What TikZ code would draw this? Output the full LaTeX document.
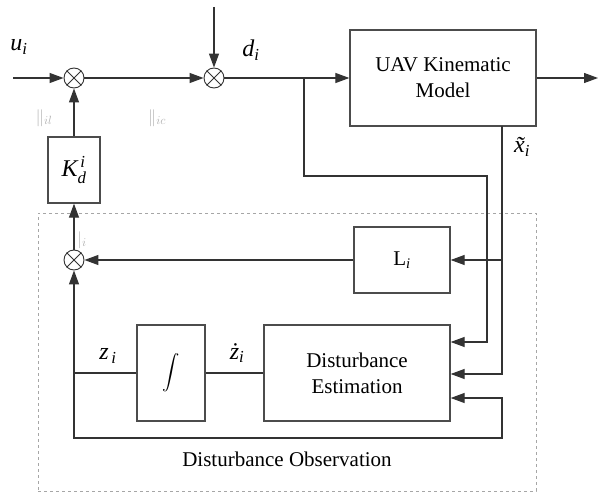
\documentclass[tikz,border=0pt]{standalone}
\usepackage{fix-cm}
\usepackage{amsmath}
\usepackage{fontspec}
\setmainfont{Liberation Serif}
\usetikzlibrary{arrows.meta}
\newcommand{\ita}[1]{\textit{#1}}
\begin{document}
\begin{tikzpicture}[x=1pt,y=-1pt,
  wire/.style={draw=black!80,line width=1.2pt},
  arr/.style={wire,-{Triangle[length=14pt,width=10pt]}},
  blockbox/.style={draw=black!70,line width=1.3pt,inner sep=0pt},
  sumnode/.style={draw=black!80,line width=0.9pt,circle,minimum size=20pt,inner sep=0pt},
  lbl/.style={font=\fontsize{21}{24}\selectfont,inner sep=0pt},
  mlbl/.style={font=\fontsize{24}{26}\selectfont,inner sep=0pt},
  faint/.style={font=\fontsize{17}{18}\selectfont,text=black!30,inner sep=0pt}]
\useasboundingbox (0,0) rectangle (599,492);
% dashed observer region
\node[draw=black!35,dashed,line width=0.8pt,inner sep=0pt,minimum width=498pt,minimum height=278pt] (obs) at (287,352) {};
% summing junctions
\node[sumnode] (s1) at (74,78) {};
\node[sumnode] (s2) at (214,78) {};
\node[sumnode] (s3) at (74,260) {};
\foreach \s in {s1,s2,s3}{
  \draw[black!80,line width=0.9pt] (\s.north west) -- (\s.south east) (\s.north east) -- (\s.south west);}
% blocks
\node[blockbox,minimum width=186pt,minimum height=96pt,align=center,lbl] (uav) at (443,78) {UAV Kinematic\\[2pt]Model};
\node[blockbox,minimum width=52pt,minimum height=66pt,mlbl] (kd) at (74,170) {$\ita{K}_{\ita{d}}^{\,\ita{i}}$};
\node[blockbox,minimum width=96pt,minimum height=66pt,lbl] (L) at (402,260) {L$_{\ita{i}}$};
\node[blockbox,minimum width=68pt,minimum height=96pt,font=\fontsize{19}{20}\selectfont] (int) at (171,373) {$\displaystyle\int$};
\node[blockbox,minimum width=186pt,minimum height=96pt,align=center,lbl] (de) at (357,373) {Disturbance\\[2pt]Estimation};
% coordinates
\coordinate (in) at (13,78);
\coordinate (dtop) at (214,7);
\coordinate (out) at (598,78);
\coordinate (br) at (304,78);
\coordinate (xb) at (502,126);
\coordinate (zl) at (74,373);
% main path
\draw[arr] (in) -- (s1);
\draw[arr] (s1) -- (s2);
\draw[arr] (dtop) -- (s2);
\draw[arr] (s2) -- (uav.west);
\draw[arr] (uav.east) -- (out);
\draw[arr] (br) -- (304,176) -- (487,176) -- (487,342) -- (de.east |- 0,342);
\draw[arr] (xb) -- (502,374) -- (de.east |- 0,374);
\draw[arr] (502,260) -- (L.east);
\draw[arr] (L.west) -- (s3);
\draw[arr] (s3) -- (kd.south);
\draw[arr] (kd.north) -- (s1);
\draw[wire] (de.west) -- (int.east);
\draw[wire] (int.west) -- (zl);
\draw[arr] (zl) -- (s3);
\draw[arr] (zl) -- (74,438) -- (502,438) -- (502,398) -- (de.east |- 0,398);
% labels
\node[mlbl] (lu) at (19,47) {$\ita{u}_{\ita{i}}$};
\node[mlbl] (ld) at (251,50) {$\ita{d}_{\ita{i}}$};
\node[mlbl] (lx) at (522,147) {$\ita{\~{x}}_{\ita{i}}$};
\node[mlbl] (lz) at (108,356) {$\ita{z}_{\,\ita{i}}$};
\node[mlbl] (lzd) at (237,353) {$\ita{\.{z}}_{\ita{i}}$};
\node[lbl] (lobs) at (287,459) {Disturbance Observation};
\node[faint] (f1) at (44,118) {$\Vert_{il}$};
\node[faint] (f2) at (157,118) {$\Vert_{ic}$};
\node[faint] (f3) at (82,240) {$|_{i}$};
\end{tikzpicture}
\end{document}
